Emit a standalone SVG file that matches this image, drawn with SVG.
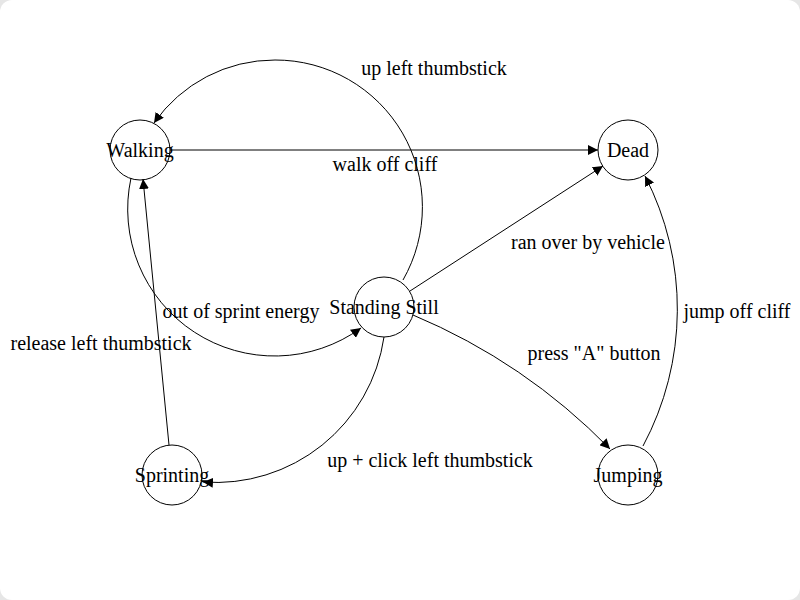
<svg xmlns="http://www.w3.org/2000/svg" width="800" height="600" viewBox="0 0 800 600">
<defs>
<marker id="arrow" viewBox="0 0 10 10" refX="10" refY="5" markerWidth="10" markerHeight="10" markerUnits="userSpaceOnUse" orient="auto">
<path d="M0,0 L10,5 L0,10 z" fill="#000"/>
</marker>
<style>
.node circle{fill:#fff;stroke:#000;stroke-width:1}
text{font-family:"Liberation Serif","Times New Roman",serif;font-size:20px;fill:#000}
.node text{text-anchor:middle}
.edge{fill:none;stroke:#000;stroke-width:1;marker-end:url(#arrow)}
.lbl{text-anchor:middle}
</style>
</defs>
<rect x="0" y="0" width="800" height="600" fill="#e6e6e6"/>
<rect x="0" y="0" width="800" height="600" rx="12" ry="12" fill="#fff"/>
<g id="nodes">
<g id="walking" class="node"><circle cx="140" cy="150" r="30"/></g>
<g id="dead" class="node"><circle cx="628" cy="150" r="30"/></g>
<g id="standing" class="node"><circle cx="384" cy="307" r="30"/></g>
<g id="sprinting" class="node"><circle cx="172" cy="475" r="30"/></g>
<g id="jumping" class="node"><circle cx="628" cy="475" r="30"/></g>
</g>
<g id="connectors">
<path class="edge" d="M170,150 L598,150"/>
<path class="edge" d="M403,280 A147,147 0 0 0 275,60 A147,147 0 0 0 154,123"/>
<path class="edge" d="M131,178 A147,147 0 0 0 361,328"/>
<path class="edge" d="M169,445 L143,179"/>
<path class="edge" d="M384,337 A170,170 0 0 1 203,482"/>
<path class="edge" d="M410,291 L603,166"/>
<path class="edge" d="M413,315 A600,600 0 0 1 610,449"/>
<path class="edge" d="M643,446 A290,290 0 0 0 645,176"/>
</g>
<g id="node-labels" class="node">
<text x="140" y="157">Walking</text>
<text x="628" y="157">Dead</text>
<text x="384" y="314">Standing Still</text>
<text x="172" y="482">Sprinting</text>
<text x="628" y="482">Jumping</text>
</g>
<g id="edge-labels">
<text class="lbl" x="434" y="75">up left thumbstick</text>
<text class="lbl" x="385" y="171">walk off cliff</text>
<text class="lbl" x="241" y="318">out of sprint energy</text>
<text class="lbl" x="101" y="350">release left thumbstick</text>
<text class="lbl" x="588" y="249">ran over by vehicle</text>
<text class="lbl" x="594" y="360">press "A" button</text>
<text class="lbl" x="737" y="318">jump off cliff</text>
<text class="lbl" x="430" y="467">up + click left thumbstick</text>
</g>
</svg>
